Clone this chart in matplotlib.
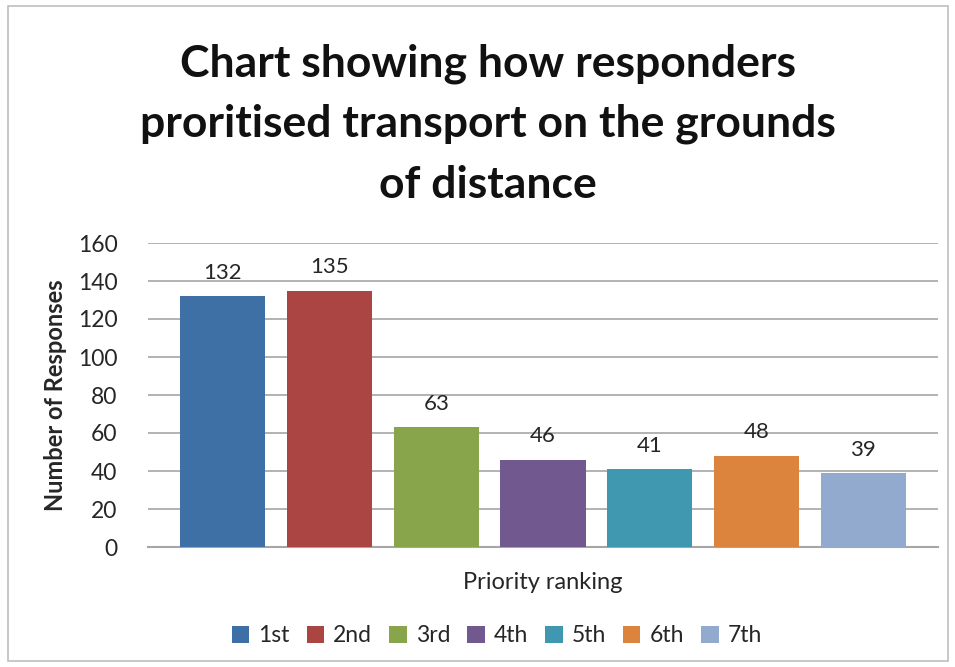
import matplotlib.pyplot as plt
from matplotlib.patches import Rectangle

# Data
rankings = ["1st", "2nd", "3rd", "4th", "5th", "6th", "7th"]
responses = [132, 135, 63, 46, 41, 48, 39]
colors = ["#3E70A6", "#AB4543", "#89A54C", "#71588F", "#3F98B0", "#DC843E", "#93AACF"]
y_ticks = [0, 20, 40, 60, 80, 100, 120, 140, 160]

plt.rcParams['font.family'] = ['Lato', 'DejaVu Sans']

fig = plt.figure(figsize=(9.55, 6.67), dpi=100)
ax = fig.add_axes([148 / 955, 1 - 547 / 667, 790 / 955, 304 / 667])

# chart border
fig.patches.append(Rectangle((8 / 955, 6 / 667), 940 / 955, 655 / 667,
                             transform=fig.transFigure, fill=False,
                             edgecolor="#BFBFBF", linewidth=1.2))

for i, (name, val, col) in enumerate(zip(rankings, responses, colors)):
    ax.bar(i, val, width=0.8, color=col, label=name, zorder=3)
    ax.text(i, val + 7, str(val), ha='center', va='bottom', fontsize=16, color="#262626")

ax.set_xlim(-0.7, 6.7)
ax.set_ylim(0, 160)
ax.set_yticks(y_ticks)
ax.set_xticks([])
ax.tick_params(axis='y', length=0, labelsize=16.5, labelcolor="#262626", pad=22)
ax.grid(axis='y', color="#A6A6A6", linewidth=1.2, zorder=0)
for side in ['top', 'right', 'left']:
    ax.spines[side].set_visible(False)
ax.spines['bottom'].set_color("#A6A6A6")
ax.spines['bottom'].set_linewidth(1.5)

ax.set_ylabel("Number of Responses", fontsize=17, fontweight='bold', color="#262626", labelpad=8)
ax.set_xlabel("Priority ranking", fontsize=17, color="#262626", labelpad=18)

fig.text(488 / 955, 1 - 124 / 667,
         "Chart showing how responders\nproritised transport on the grounds\nof distance",
         ha='center', va='center', fontsize=32, fontweight='bold', color="#111111",
         linespacing=1.62)

fig.legend(loc='center', bbox_to_anchor=(497 / 955, 1 - 636 / 667), ncol=7,
           frameon=False, fontsize=16.5, handlelength=0.75, handleheight=0.75,
           handletextpad=0.4, columnspacing=0.75, labelcolor="#262626")

fig.savefig("out.png", dpi=100)
